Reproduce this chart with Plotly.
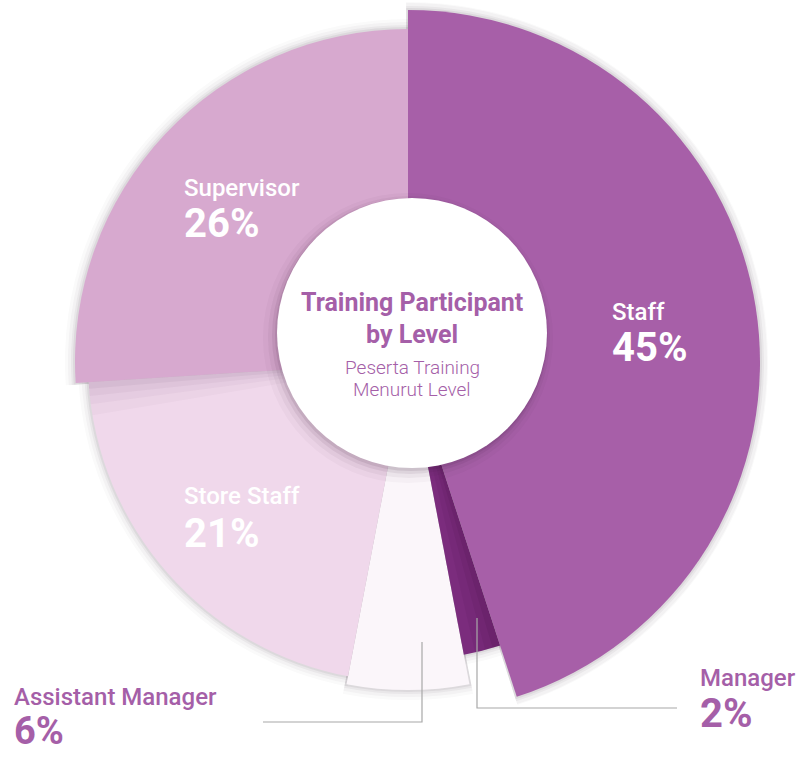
import plotly.graph_objects as go

# Share of training participants per level (percent)
levels = ["Staff", "Manager", "Assistant Manager", "Store Staff", "Supervisor"]
shares = [45, 2, 6, 21, 26]

# Styling per slice: fill colour and outer radius (radial axis units = px)
slice_colors = ["#a75fa8", "#7b2c7d", "#fbf6fa", "#f0d8eb", "#d7a9cf"]
slice_radius = [352, 298, 328, 320, 333]

W, H = 800, 758
CX, CY = 408, 362          # pie apex in page pixels
RPX = 360                  # polar radius in pixels

ACCENT = "#a55fa8"
FONT = "Roboto"

# Angular positions derived from the shares (clockwise from 12 o'clock)
centers, widths = [], []
start = 0.0
for s in shares:
    w = s * 3.6
    centers.append(start + w / 2)
    widths.append(w)
    start += w

fig = go.Figure()

# soft halo behind the slices
for k, a in [(10, 0.025), (7, 0.035), (4, 0.05), (2, 0.07)]:
    fig.add_trace(go.Barpolar(
        theta=centers, width=[w + 0.6 for w in widths],
        r=[r + k for r in slice_radius],
        marker=dict(color=f"rgba(60,40,60,{a})", line=dict(width=0)),
        hoverinfo="skip", showlegend=False))

order = [2, 1, 3, 0, 4]
for i in order:
    fig.add_trace(go.Barpolar(
        theta=[centers[i]], width=[widths[i]], r=[slice_radius[i]],
        name=levels[i],
        marker=dict(color=slice_colors[i], line=dict(width=0)),
        hovertemplate=f"{levels[i]}: {shares[i]}%<extra></extra>",
        showlegend=False))
    if levels[i] == "Store Staff":
        # shading cast by the Supervisor slice onto Store Staff
        sup_start = centers[4] - widths[4] / 2
        for d, a in [(6, 0.03), (4, 0.04), (2.5, 0.05), (1.2, 0.06)]:
            fig.add_trace(go.Barpolar(
                theta=[sup_start - d / 2], width=[d], r=[slice_radius[i]],
                marker=dict(color=f"rgba(90,50,90,{a})", line=dict(width=0)),
                hoverinfo="skip", showlegend=False))
    if levels[i] == "Staff":
        staff_end = widths[0]
        for d, a in [(5, 0.05), (3, 0.06), (1.5, 0.08)]:
            fig.add_trace(go.Barpolar(
                theta=[staff_end + d / 2], width=[d], r=[slice_radius[1]],
                marker=dict(color=f"rgba(40,0,40,{a})", line=dict(width=0)),
                hoverinfo="skip", showlegend=False))

fig.update_layout(
    width=W, height=H,
    margin=dict(l=0, r=0, t=0, b=0),
    paper_bgcolor="white", plot_bgcolor="white",
    polar=dict(
        domain=dict(x=[(CX - RPX) / W, (CX + RPX) / W],
                    y=[(H - CY - RPX) / H, (H - CY + RPX) / H]),
        bgcolor="rgba(0,0,0,0)",
        hole=0,
        barmode="overlay",
        radialaxis=dict(range=[0, RPX], visible=False),
        angularaxis=dict(rotation=90, direction="clockwise", visible=False,
                         showgrid=False),
    ),
)


def px(x):
    return x / W


def py(y):
    return 1 - y / H


# centre disc with a soft drop shadow
DCX, DCY, DR = 412, 333, 135
shapes = []
for grow, dx, dy, a in [(10, -4, 5, 0.03), (6, -3, 4, 0.05), (3, -2, 3, 0.08), (1, -1, 2, 0.10)]:
    shapes.append(dict(type="circle", xref="paper", yref="paper",
                       x0=px(DCX - DR - grow + dx), x1=px(DCX + DR + grow + dx),
                       y0=py(DCY + DR + grow + dy), y1=py(DCY - DR - grow + dy),
                       fillcolor=f"rgba(60,30,60,{a})", line=dict(width=0), layer="above"))
shapes.append(dict(type="circle", xref="paper", yref="paper",
                   x0=px(DCX - DR), x1=px(DCX + DR),
                   y0=py(DCY + DR), y1=py(DCY - DR),
                   fillcolor="white", line=dict(width=0), layer="above"))

# leader lines for the two small slices
LINE = dict(color="#a8a8a8", width=1.2)
shapes.append(dict(type="path", xref="paper", yref="paper",
                   path=f"M {px(422)},{py(642)} L {px(422)},{py(722)} L {px(263)},{py(722)}",
                   line=LINE, layer="above"))
shapes.append(dict(type="path", xref="paper", yref="paper",
                   path=f"M {px(477)},{py(618)} L {px(477)},{py(708)} L {px(677)},{py(708)}",
                   line=LINE, layer="above"))
fig.update_layout(shapes=shapes)

annotations = []


def text(x, y, s, size, color, weight="normal", anchor="left"):
    annotations.append(dict(x=px(x), y=py(y), xref="paper", yref="paper",
                            text=s, showarrow=False, xanchor=anchor, yanchor="middle",
                            font=dict(family=FONT, size=size, color=color, weight=weight)))


# centre title
text(DCX, 303, "Training Participant", 25, ACCENT, "bold", "center")
text(DCX, 334, "by Level", 25, ACCENT, "bold", "center")
text(DCX, 367, "Peserta Training", 19, ACCENT, 300, "center")
text(DCX, 389, "Menurut Level", 19, ACCENT, 300, "center")

# slice labels: (name position, percent position, colour, percent size)
label_pos = {
    "Staff": ((610, 312), (610, 347), "white", 40),
    "Manager": ((698, 678), (698, 713), ACCENT, 40),
    "Assistant Manager": ((12, 697), (12, 731), ACCENT, 38),
    "Store Staff": ((182, 496), (182, 533), "white", 40),
    "Supervisor": ((182, 188), (182, 223), "white", 40),
}
for name, share in zip(levels, shares):
    (nx, ny), (vx, vy), col, vsize = label_pos[name]
    text(nx, ny, name, 24, col, 500)
    text(vx, vy, f"{share}%", vsize, col, "bold")

fig.update_layout(annotations=annotations)

fig.write_html("out.html")
